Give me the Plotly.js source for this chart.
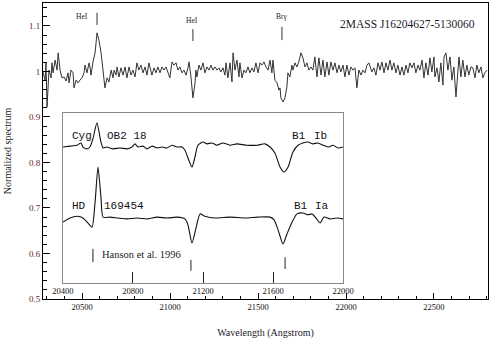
<!DOCTYPE html>
<html>
<head>
<meta charset="utf-8">
<script src="https://cdn.plot.ly/plotly-3.0.1.min.js"></script>
<style>
  html, body { margin: 0; padding: 0; background: #fff; }
  #chart { width: 491px; height: 340px; }
</style>
</head>
<body>
<div id="chart"></div>
<script>
// main spectrum: 2MASS J16204627-5130060
const mainWave = [
  20278, 20290, 20295, 20301, 20312, 20324, 20329, 20335, 20347, 20358, 20364, 20375, 20386, 20398, 20409, 20420,
  20426, 20437, 20449, 20454, 20466, 20477, 20488, 20500, 20511, 20517, 20528, 20540, 20545, 20551, 20562, 20574,
  20585, 20596, 20608, 20619, 20630, 20642, 20653, 20665, 20676, 20682, 20693, 20699, 20710, 20721, 20733, 20744,
  20755, 20767, 20778, 20789, 20801, 20812, 20823, 20835, 20846, 20858, 20869, 20880,
  20897, 20909, 20920, 20931, 20943, 20954, 20965, 20977, 20988, 20999, 21011, 21022, 21034, 21045, 21056, 21068,
  21079, 21091, 21102, 21108, 21119, 21125, 21130, 21142, 21147, 21153, 21164, 21176, 21187, 21198, 21210, 21221,
  21233, 21244, 21255, 21267, 21278, 21289, 21301, 21312, 21318, 21329, 21341, 21352, 21358, 21369, 21380, 21392,
  21397, 21409, 21420, 21431, 21443, 21454, 21466, 21477, 21488, 21500,
  21511, 21522, 21534, 21545, 21557, 21568, 21579, 21585, 21596, 21608, 21619, 21625, 21630, 21642, 21653, 21664,
  21670, 21681, 21693, 21698, 21710, 21721, 21732, 21744, 21755, 21767, 21778, 21789, 21801, 21812, 21823, 21835,
  21846, 21858, 21869, 21880, 21892, 21903, 21914, 21926, 21937, 21949, 21960, 21971, 21983, 21994, 22005, 22017,
  22028, 22039, 22051, 22062, 22073, 22085, 22096, 22108, 22119, 22130,
  22147, 22159, 22170, 22182, 22193, 22204, 22216, 22227, 22238, 22250, 22261, 22272, 22284, 22295, 22307, 22318,
  22329, 22341, 22352, 22363, 22375, 22386, 22397, 22409, 22420, 22432, 22443, 22454, 22466, 22477, 22488, 22500,
  22505, 22517, 22528, 22539, 22551, 22557, 22568, 22579, 22591, 22602, 22613, 22625, 22636, 22642, 22653, 22664,
  22676, 22687, 22698, 22710, 22721, 22733, 22744, 22755, 22767, 22778, 22789, 22801,
];
const mainFlux = [
  0.999, 0.981, 1.019, 0.922, 1.003, 0.986, 1.019, 0.997, 1.025, 1.003, 1.041, 1.003, 0.986, 0.988, 0.979, 0.997,
  0.975, 1.003, 0.997, 0.964, 0.981, 0.975, 0.981, 0.986, 0.997, 1.014, 0.997, 1.019, 1.010, 0.992, 1.021, 1.041,
  1.085, 1.069, 1.041, 1.003, 0.964, 0.986, 0.977, 1.003, 0.986, 1.003, 0.992, 1.010, 0.988, 1.008, 0.992, 1.010,
  0.986, 1.010, 0.992, 1.003, 0.988, 1.019, 1.003, 1.014, 0.997, 1.010, 0.992, 1.019,
  0.992, 1.008, 0.997, 1.010, 0.997, 1.010, 1.003, 1.010, 0.997, 0.986, 1.021, 1.014, 1.019, 1.003, 1.010, 0.997,
  1.003, 0.992, 1.008, 1.021, 0.988, 0.959, 0.942, 0.975, 1.003, 0.988, 1.014, 1.003, 1.019, 0.997, 1.010, 1.003,
  1.014, 1.003, 1.010, 1.003, 1.008, 0.999, 1.008, 0.992, 1.019, 0.986, 1.019, 0.977, 1.041, 1.003, 1.025, 0.988,
  1.019, 0.986, 1.003, 0.997, 1.010, 0.997, 1.008, 0.999, 1.019, 0.997,
  1.019, 1.014, 1.021, 1.010, 1.003, 1.025, 0.997, 1.025, 0.981, 0.975, 0.959, 0.964, 0.942, 0.933, 0.942, 0.966,
  0.997, 0.988, 1.014, 1.003, 1.019, 1.010, 1.021, 1.041, 1.030, 1.010, 1.019, 1.003, 1.010, 1.003, 1.032, 0.988,
  1.030, 0.992, 1.025, 0.988, 1.021, 0.992, 1.021, 1.003, 1.019, 0.997, 1.014, 0.999, 1.014, 0.988, 1.014, 0.992,
  1.010, 1.003, 1.008, 0.964, 1.003, 0.992, 1.003, 0.997, 1.014, 1.019,
  0.999, 1.008, 0.992, 1.019, 1.003, 1.021, 0.997, 1.019, 1.003, 1.025, 1.003, 1.019, 0.997, 1.014, 0.992, 1.010,
  0.992, 1.014, 0.997, 1.019, 1.008, 1.019, 0.997, 1.014, 1.003, 1.025, 0.986, 1.019, 0.992, 1.030, 0.999, 1.032,
  0.988, 1.008, 0.977, 1.019, 0.970, 1.032, 1.041, 1.003, 1.032, 0.981, 1.010, 0.944, 0.999, 1.032, 0.988, 1.025,
  0.988, 1.014, 0.992, 1.010, 1.008, 0.986, 1.014, 0.997, 1.010, 0.986, 0.997, 1.003,
];

// inset comparison spectra (Hanson et al. 1996)
const cygWave = [
  20400, 20440, 20480, 20503, 20514, 20537, 20554, 20571, 20594, 20617, 20629, 20651, 20686, 20726, 20766, 20794,
  20811, 20829, 20857, 20880, 20909, 20937, 20966, 20994, 21023, 21051, 21080, 21097, 21114, 21137, 21154, 21171,
  21200, 21223, 21251, 21280, 21314, 21354, 21394, 21451, 21509, 21554, 21583, 21611, 21640, 21663, 21686, 21714,
  21743, 21771, 21800, 21829, 21857, 21886, 21914, 21943, 21971, 22000,
];
const cygFlux = [
  0.834, 0.836, 0.838, 0.843, 0.834, 0.830, 0.834, 0.852, 0.887, 0.845, 0.832, 0.834, 0.830, 0.832, 0.830, 0.834,
  0.841, 0.834, 0.836, 0.830, 0.836, 0.832, 0.834, 0.832, 0.838, 0.834, 0.834, 0.827, 0.810, 0.790, 0.812, 0.838,
  0.845, 0.841, 0.843, 0.838, 0.843, 0.838, 0.841, 0.838, 0.838, 0.841, 0.834, 0.821, 0.790, 0.779, 0.790, 0.823,
  0.838, 0.843, 0.845, 0.841, 0.843, 0.838, 0.834, 0.838, 0.832, 0.834,
];
const hdWave = [
  20400, 20440, 20480, 20503, 20526, 20543, 20566, 20583, 20600, 20617, 20629, 20669, 20714, 20766, 20823, 20880,
  20937, 20994, 21051, 21097, 21114, 21137, 21160, 21183, 21211, 21269, 21354, 21440, 21514, 21583, 21606, 21629,
  21657, 21680, 21709, 21737, 21771, 21800, 21823, 21846, 21869, 21891, 21926, 21966, 22000,
];
const hdFlux = [
  0.669, 0.678, 0.682, 0.680, 0.674, 0.667, 0.658, 0.711, 0.790, 0.724, 0.680, 0.680, 0.678, 0.676, 0.678, 0.676,
  0.680, 0.678, 0.680, 0.676, 0.663, 0.623, 0.656, 0.687, 0.682, 0.678, 0.680, 0.678, 0.680, 0.680, 0.674, 0.652,
  0.621, 0.643, 0.669, 0.687, 0.689, 0.685, 0.687, 0.678, 0.667, 0.680, 0.676, 0.678, 0.676,
];

// line identifications on the main spectrum
const lineNames = ["HeI", "HeI", "Brγ"];
const lineWaves = [20585, 21130, 21636];
const lineLabelWaves = [20500, 21125, 21636];
const lineLabelY = [1.120, 1.113, 1.120];
const lineMarkLow = [1.102, 1.067, 1.069];
const lineMarkHigh = [1.129, 1.093, 1.098];

// Hanson et al. marks in the inset
const insetMarkWaves = [20571, 21131, 21669];
const insetMarkLow = [0.581, 0.562, 0.566];
const insetMarkHigh = [0.610, 0.586, 0.592];

const mainTicks = [20500, 21000, 21500, 22000, 22500];
const mainTickText = ["20500", "21000", "21500", "22000", "22500"];
const insetTicks = [20400, 20800, 21200, 21600, 22000];
const insetTickText = ["20400", "20800", "21200", "21600", "22000"];
const fluxTicks = [0.5, 0.6, 0.7, 0.8, 0.9, 1.0, 1.1];
const fluxTickText = ["0.5", "0.6", "0.7", "0.8", "0.9", "1", "1.1"];

const SERIF = "Liberation Serif, Times New Roman, serif";
const MONO = "Liberation Mono, Courier New, monospace";

const traces = [
  {
    x: mainWave, y: mainFlux, type: "scatter", mode: "lines",
    line: { color: "#333", width: 1 }, xaxis: "x", yaxis: "y", hoverinfo: "skip",
  },
  {
    x: cygWave, y: cygFlux, type: "scatter", mode: "lines",
    line: { color: "#111", width: 1.1, shape: "spline", smoothing: 0.6 }, xaxis: "x2", yaxis: "y2", hoverinfo: "skip",
  },
  {
    x: hdWave, y: hdFlux, type: "scatter", mode: "lines",
    line: { color: "#111", width: 1.1, shape: "spline", smoothing: 0.6 }, xaxis: "x2", yaxis: "y2", hoverinfo: "skip",
  },
];

const shapes = [];
lineWaves.forEach((w, i) => {
  shapes.push({ type: "line", xref: "x", yref: "y", x0: w, x1: w, y0: lineMarkLow[i], y1: lineMarkHigh[i],
    line: { color: "#333", width: 1 } });
});
insetMarkWaves.forEach((w, i) => {
  shapes.push({ type: "line", xref: "x2", yref: "y2", x0: w, x1: w, y0: insetMarkLow[i], y1: insetMarkHigh[i],
    line: { color: "#222", width: 1 } });
});

const annotations = lineNames.map((name, i) => ({
  text: name, xref: "x", yref: "y", x: lineLabelWaves[i], y: lineLabelY[i],
  showarrow: false, font: { family: SERIF, size: 7.5, color: "#222" },
}));

annotations.push({
  text: "2MASS J16204627-5130060", xref: "x", yref: "y", x: 22352, y: 1.104,
  showarrow: false, font: { family: SERIF, size: 11.5, color: "#1a1a2a" },
});

const insetLabels = [
  ["Cyg", 20440, 0.858], ["OB2 18", 20640, 0.858], ["B1", 21697, 0.858], ["Ib", 21823, 0.858],
  ["HD", 20440, 0.704], ["169454", 20623, 0.704], ["B1", 21709, 0.704], ["Ia", 21829, 0.704],
];
insetLabels.forEach(([text, x, y]) => {
  annotations.push({
    text, xref: "x2", yref: "y2", x, y, xanchor: "left", showarrow: false,
    font: { family: MONO, size: 11, color: "#111" },
  });
});
annotations.push({
  text: "Hanson et al. 1996", xref: "x2", yref: "y2", x: 20611, y: 0.597, xanchor: "left",
  showarrow: false, font: { family: SERIF, size: 10.5, color: "#222" },
});

const layout = {
  width: 491,
  height: 340,
  margin: { l: 43, r: 3, t: 3, b: 41 },
  paper_bgcolor: "#fff",
  plot_bgcolor: "#fff",
  showlegend: false,
  font: { family: SERIF, color: "#111" },
  xaxis: {
    range: [20278, 22807],
    domain: [0, 1],
    anchor: "y",
    tickvals: mainTicks,
    ticktext: mainTickText,
    ticks: "inside",
    ticklen: 6,
    tickcolor: "#000",
    minor: { dtick: 100, tick0: 20500, ticks: "inside", ticklen: 3, tickcolor: "#000" },
    showline: true, mirror: true, linecolor: "#000", linewidth: 1,
    showgrid: false, zeroline: false,
    tickfont: { family: SERIF, size: 8.5, color: "#111" },
    title: { text: "Wavelength (Angstrom)", font: { family: SERIF, size: 10, color: "#1a1a2a" }, standoff: 17 },
  },
  yaxis: {
    range: [0.5, 1.1505],
    domain: [0, 1],
    anchor: "x",
    tickvals: fluxTicks,
    ticktext: fluxTickText,
    ticks: "inside",
    ticklen: 7,
    tickcolor: "#000",
    minor: { dtick: 0.02, tick0: 0.5, ticks: "inside", ticklen: 4, tickcolor: "#000" },
    showline: true, mirror: true, linecolor: "#000", linewidth: 1,
    showgrid: false, zeroline: false,
    tickfont: { family: SERIF, size: 9, color: "#6e1c1c" },
    title: { text: "Normalized spectrum", font: { family: SERIF, size: 10, color: "#1a1a1a" }, standoff: 15 },
  },
  xaxis2: {
    range: [20400, 22000],
    domain: [0.0449, 0.6742],
    anchor: "y2",
    tickvals: insetTicks,
    ticktext: insetTickText,
    ticks: "inside",
    ticklen: 11,
    tickcolor: "#222",
    showline: true, mirror: true, linecolor: "#8a8a8a", linewidth: 1,
    showgrid: false, zeroline: false,
    tickfont: { family: SERIF, size: 8.5, color: "#111" },
  },
  yaxis2: {
    range: [0.5352, 0.9088],
    domain: [0.0541, 0.6284],
    anchor: "x2",
    showticklabels: false,
    ticks: "",
    showline: true, mirror: true, linecolor: "#8a8a8a", linewidth: 1,
    showgrid: false, zeroline: false,
  },
  shapes,
  annotations,
};

Plotly.newPlot("chart", traces, layout, { displayModeBar: false, staticPlot: true });
</script>
</body>
</html>
